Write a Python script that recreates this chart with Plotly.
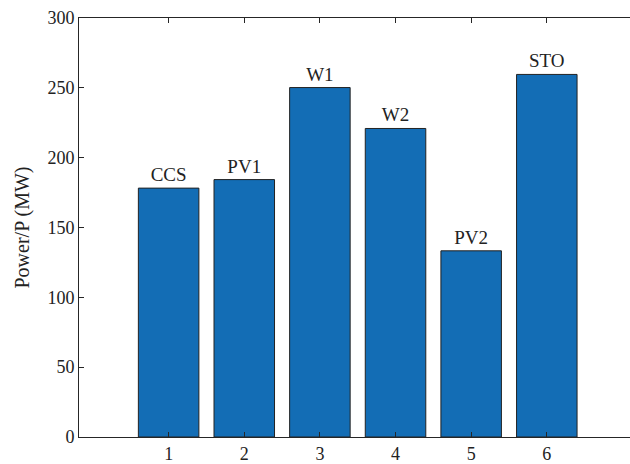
import plotly.graph_objects as go

# Unit index, unit name and dispatched power (MW)
units = [1, 2, 3, 4, 5, 6]
names = ["CCS", "PV1", "W1", "W2", "PV2", "STO"]
power = [178.2, 184.3, 250.2, 220.9, 133.3, 259.6]
y_ticks = [0, 50, 100, 150, 200, 250, 300]

serif = "Liberation Serif, Times New Roman, serif"
ink = "#262626"

fig = go.Figure(
    go.Bar(
        x=units,
        y=power,
        width=0.8,
        marker=dict(color="#136db5", line=dict(color="#222222", width=1)),
        text=names,
        textposition="outside",
        constraintext="none",
        textfont=dict(family=serif, size=19, color="#222222"),
        cliponaxis=False,
        hoverinfo="x+y",
    )
)

axis_common = dict(
    showline=True,
    linecolor=ink,
    linewidth=1,
    ticks="inside",
    ticklen=5,
    tickcolor=ink,
    showgrid=False,
    zeroline=False,
    tickfont=dict(family=serif, size=18, color="#222222"),
)

fig.update_layout(
    width=630,
    height=464,
    margin=dict(l=79, r=0, t=18, b=24),
    paper_bgcolor="white",
    plot_bgcolor="white",
    showlegend=False,
    xaxis=dict(range=[-0.185, 7.1], tickvals=units, mirror="ticks", **axis_common),
    yaxis=dict(
        range=[0, 300],
        tickvals=y_ticks,
        mirror=False,
        title=dict(text="Power/P (MW)", font=dict(family=serif, size=20, color="#222222"), standoff=12),
        **axis_common,
    ),
)

fig.write_html("out.html")
